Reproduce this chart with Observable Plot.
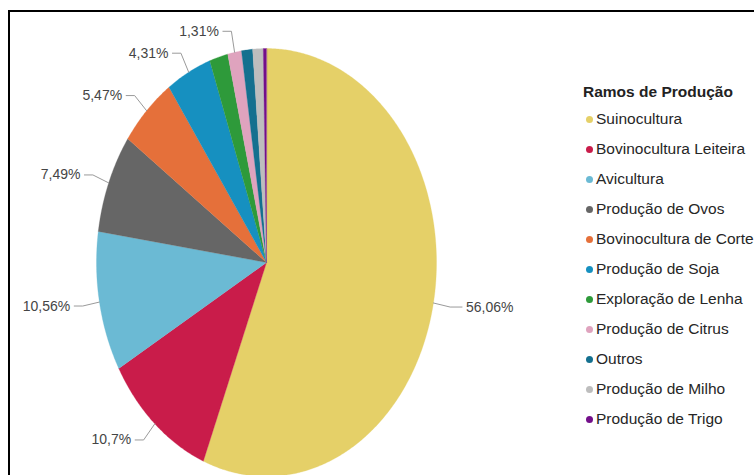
<!DOCTYPE html>
<html><head><meta charset="utf-8">
<script src="https://cdn.jsdelivr.net/npm/d3@7"></script>
<script src="https://cdn.jsdelivr.net/npm/@observablehq/plot@0.6"></script>
<style>
html,body{margin:0;padding:0;background:#fff;}
#wrap{position:relative;width:754px;height:475px;overflow:hidden;font-family:"Liberation Sans",Arial,sans-serif;}
#frame{position:absolute;left:8px;top:10px;width:800px;height:500px;border-top:2px solid #000;border-left:2px solid #000;}
#chart{position:absolute;left:0;top:0;}
.lt{position:absolute;left:583px;font-family:"Liberation Sans",Arial,sans-serif;font-weight:bold;font-size:15.5px;color:#222;height:20px;line-height:20px;white-space:nowrap;}
.li{position:absolute;left:586px;font-size:15.5px;color:#262626;height:20px;line-height:20px;white-space:nowrap;}
.li .dot{display:inline-block;width:7px;height:7px;border-radius:50%;margin-right:3px;vertical-align:1px;}
</style>
</head><body>
<div id="wrap"><div id="frame"></div><div id="chart"></div></div>
<script>
const categories = ["Suinocultura","Bovinocultura Leiteira","Avicultura","Produção de Ovos","Bovinocultura de Corte","Produção de Soja","Exploração de Lenha","Produção de Citrus","Outros","Produção de Milho","Produção de Trigo"];
const values = [56.06, 10.7, 10.56, 7.49, 5.47, 4.31, 1.75, 1.31, 1.05, 1.0, 0.3];
const pctLabels = ["56,06%","10,7%","10,56%","7,49%","5,47%","4,31%","","1,31%","","",""];
const colors = ["#E5D068","#C91C4A","#6BBAD4","#666666","#E5703A","#1690C0","#2E9A3A","#DFA3BE","#14708F","#BDBDBD","#730F8A"];
const legendTitle = "Ramos de Produção";

const arcs = d3.pie().sort(null).value(d => d)(values);
const slices = [];
const leaders = [];
const leftLabels = [];
const rightLabels = [];
arcs.forEach((p, i) => {
  const span = p.endAngle - p.startAngle;
  const n = Math.max(2, Math.ceil(span / (Math.PI / 360)));
  slices.push({name: categories[i], x: 0, y: 0});
  for (let k = 0; k <= n; k++) {
    const a = p.startAngle + span * k / n;
    slices.push({name: categories[i], x: Math.sin(a), y: -Math.cos(a)});
  }
  if (pctLabels[i]) {
    const a = (p.startAngle + p.endAngle) / 2;
    const s = Math.sin(a) < 0 ? -1 : 1;
    const x1 = 1.1 * Math.sin(a), y1 = -1.1 * Math.cos(a);
    const h = s < 0 ? 0.05 : 0.07;
    leaders.push({name: categories[i], x: 1.0 * Math.sin(a), y: -1.0 * Math.cos(a)});
    leaders.push({name: categories[i], x: x1, y: y1});
    leaders.push({name: categories[i], x: x1 + s * h, y: y1});
    (s < 0 ? leftLabels : rightLabels).push({x: x1 + s * h, y: y1, text: pctLabels[i]});
  }
});

const chart = Plot.plot({
  width: 754,
  height: 475,
  margin: 0,
  x: {domain: [-1, 1], range: [96, 436], axis: null},
  y: {domain: [-1, 1], range: [48, 476], axis: null},
  color: {domain: categories, range: colors},
  marks: [
    Plot.line(slices, {x: "x", y: "y", z: "name", fill: "name", stroke: "name", strokeWidth: 0.3, curve: "linear-closed"}),
    Plot.line(leaders, {x: "x", y: "y", z: "name", stroke: "#9a9a9a", strokeWidth: 1}),
    Plot.text(leftLabels, {x: "x", y: "y", text: "text", textAnchor: "end", dx: -4, fontSize: 14, fill: "#454545", fontFamily: "Liberation Sans, Arial, sans-serif"}),
    Plot.text(rightLabels, {x: "x", y: "y", text: "text", textAnchor: "start", dx: 4, fontSize: 14, fill: "#454545", fontFamily: "Liberation Sans, Arial, sans-serif"})
  ]
});
chart.style.background = "transparent";
document.getElementById("chart").appendChild(chart);

const wrap = document.getElementById("wrap");
const t = document.createElement("div");
t.className = "lt";
t.style.top = (92 - 10) + "px";
t.textContent = legendTitle;
wrap.appendChild(t);
categories.forEach((c, i) => {
  const d = document.createElement("div");
  d.className = "li";
  d.style.top = (119 + 30 * i - 10) + "px";
  const dot = document.createElement("span");
  dot.className = "dot";
  dot.style.background = colors[i];
  d.appendChild(dot);
  d.appendChild(document.createTextNode(c));
  wrap.appendChild(d);
});
</script>
</body></html>
